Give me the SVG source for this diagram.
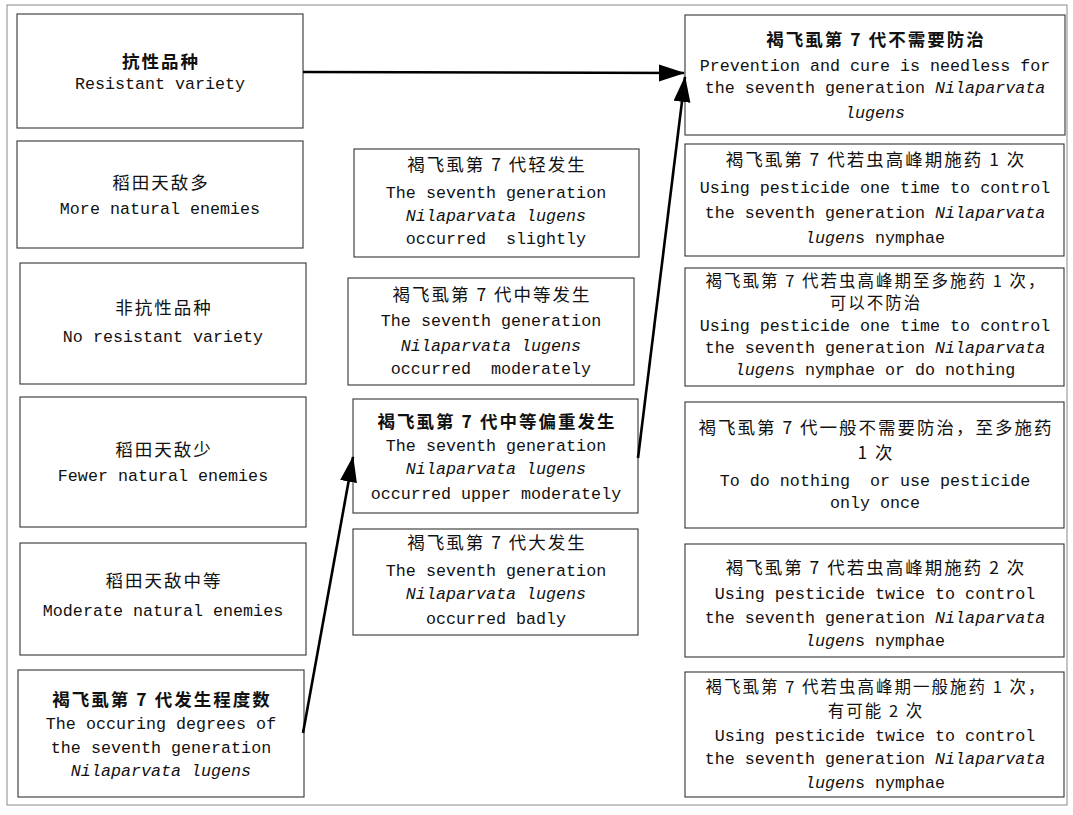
<svg xmlns="http://www.w3.org/2000/svg" width="1073" height="815" viewBox="0 0 1073 815">
<style>
.frame{fill:none;stroke:#8a8a8a;stroke-width:1}
.box{fill:#fff;stroke:#333;stroke-width:1.1}
text{text-anchor:middle;fill:#111;white-space:pre}
.zh{font-family:"Noto Sans CJK SC","Liberation Serif",serif;font-size:17.5px;letter-spacing:2px}
.sm{font-size:16.5px}
.b{font-weight:bold}
.en{font-family:"Liberation Mono",monospace;font-size:16.7px}
.it{font-style:italic}
.arr{stroke:#000;stroke-width:2.6;fill:none;marker-end:url(#ah)}
</style>
<defs>
<marker id="ah" markerUnits="userSpaceOnUse" markerWidth="28" markerHeight="18" refX="25" refY="8.5" orient="auto">
<path d="M0,0 L26,8.5 L0,17 z" fill="#000"/>
</marker>
</defs>
<rect width="1073" height="815" fill="#fff"/>
<rect class="frame" x="7" y="5" width="1060" height="800"/>

<g id="n-resistant">
<rect class="box" x="17" y="14" width="286" height="114"/>
<text class="zh b" x="161" y="68">抗性品种</text>
<text class="en" x="160" y="89">Resistant variety</text>
</g>
<g id="n-more-enemies">
<rect class="box" x="17" y="141" width="286" height="107"/>
<text class="zh" x="161" y="189">稻田天敌多</text>
<text class="en" x="160" y="214">More natural enemies</text>
</g>
<g id="n-no-resistant">
<rect class="box" x="20" y="263" width="286" height="121"/>
<text class="zh" x="164" y="314">非抗性品种</text>
<text class="en" x="163" y="342">No resistant variety</text>
</g>
<g id="n-fewer-enemies">
<rect class="box" x="20" y="397" width="286" height="130"/>
<text class="zh" x="164" y="456">稻田天敌少</text>
<text class="en" x="163" y="481">Fewer natural enemies</text>
</g>
<g id="n-moderate-enemies">
<rect class="box" x="20" y="543" width="286" height="112"/>
<text class="zh" x="164" y="587">稻田天敌中等</text>
<text class="en" x="163" y="616">Moderate natural enemies</text>
</g>
<g id="n-degrees">
<rect class="box" x="18" y="670" width="286" height="127"/>
<text class="zh b" x="162" y="706">褐飞虱第 7 代发生程度数</text>
<text class="en" x="161" y="729">The occuring degrees of</text>
<text class="en" x="161" y="753">the seventh generation</text>
<text class="en it" x="161" y="776">Nilaparvata lugens</text>
</g>

<g id="n-slight">
<rect class="box" x="354" y="149" width="285" height="108"/>
<text class="zh" x="497" y="171">褐飞虱第 7 代轻发生</text>
<text class="en" x="496" y="198">The seventh generation</text>
<text class="en it" x="496" y="221">Nilaparvata lugens</text>
<text class="en" x="496" y="244">occurred  slightly</text>
</g>
<g id="n-moderate">
<rect class="box" x="348" y="278" width="286" height="107"/>
<text class="zh" x="492" y="301">褐飞虱第 7 代中等发生</text>
<text class="en" x="491" y="326">The seventh generation</text>
<text class="en it" x="491" y="351">Nilaparvata lugens</text>
<text class="en" x="491" y="374">occurred  moderately</text>
</g>
<g id="n-upper-moderate">
<rect class="box" x="353" y="399" width="285" height="114"/>
<text class="zh b" x="497" y="428">褐飞虱第 7 代中等偏重发生</text>
<text class="en" x="496" y="451">The seventh generation</text>
<text class="en it" x="496" y="474">Nilaparvata lugens</text>
<text class="en" x="496" y="499">occurred upper moderately</text>
</g>
<g id="n-badly">
<rect class="box" x="353" y="529" width="285" height="106"/>
<text class="zh" x="497" y="549">褐飞虱第 7 代大发生</text>
<text class="en" x="496" y="576">The seventh generation</text>
<text class="en it" x="496" y="599">Nilaparvata lugens</text>
<text class="en" x="496" y="624">occurred badly</text>
</g>

<g id="n-needless">
<rect class="box" x="685" y="15" width="380" height="120"/>
<text class="zh b" x="876" y="46">褐飞虱第 7 代不需要防治</text>
<text class="en" x="875" y="71">Prevention and cure is needless for</text>
<text class="en" x="875" y="93">the seventh generation <tspan class="it">Nilaparvata</tspan></text>
<text class="en it" x="875" y="118">lugens</text>
</g>
<g id="n-once">
<rect class="box" x="685" y="144" width="379" height="112"/>
<text class="zh" x="876" y="166">褐飞虱第 7 代若虫高峰期施药 1 次</text>
<text class="en" x="875" y="193">Using pesticide one time to control</text>
<text class="en" x="875" y="218">the seventh generation <tspan class="it">Nilaparvata</tspan></text>
<text class="en" x="875" y="243"><tspan class="it">lugen</tspan>s nymphae</text>
</g>
<g id="n-atmost-once">
<rect class="box" x="685" y="268" width="379" height="118"/>
<text class="zh sm" x="876" y="287">褐飞虱第 7 代若虫高峰期至多施药 1 次，</text>
<text class="zh sm" x="876" y="309">可以不防治</text>
<text class="en" x="875" y="331">Using pesticide one time to control</text>
<text class="en" x="875" y="353">the seventh generation <tspan class="it">Nilaparvata</tspan></text>
<text class="en" x="875" y="375"><tspan class="it">lugen</tspan>s nymphae or do nothing</text>
</g>
<g id="n-nothing-or-once">
<rect class="box" x="685" y="402" width="379" height="126"/>
<text class="zh" x="876" y="434">褐飞虱第 7 代一般不需要防治，至多施药</text>
<text class="zh" x="876" y="459">1 次</text>
<text class="en" x="875" y="486">To do nothing  or use pesticide</text>
<text class="en" x="875" y="508">only once</text>
</g>
<g id="n-twice">
<rect class="box" x="685" y="544" width="379" height="113"/>
<text class="zh" x="876" y="574">褐飞虱第 7 代若虫高峰期施药 2 次</text>
<text class="en" x="875" y="599">Using pesticide twice to control</text>
<text class="en" x="875" y="623">the seventh generation <tspan class="it">Nilaparvata</tspan></text>
<text class="en" x="875" y="646"><tspan class="it">lugen</tspan>s nymphae</text>
</g>
<g id="n-once-maybe-twice">
<rect class="box" x="685" y="672" width="379" height="125"/>
<text class="zh sm" x="876" y="693">褐飞虱第 7 代若虫高峰期一般施药 1 次，</text>
<text class="zh sm" x="876" y="717">有可能 2 次</text>
<text class="en" x="875" y="741">Using pesticide twice to control</text>
<text class="en" x="875" y="764">the seventh generation <tspan class="it">Nilaparvata</tspan></text>
<text class="en" x="875" y="788"><tspan class="it">lugen</tspan>s nymphae</text>
</g>

<g id="connectors">
<line class="arr" x1="303" y1="72" x2="684" y2="73"/>
<line class="arr" x1="303" y1="733" x2="353" y2="457"/>
<line class="arr" x1="638" y1="458" x2="685" y2="77"/>
</g>
</svg>
